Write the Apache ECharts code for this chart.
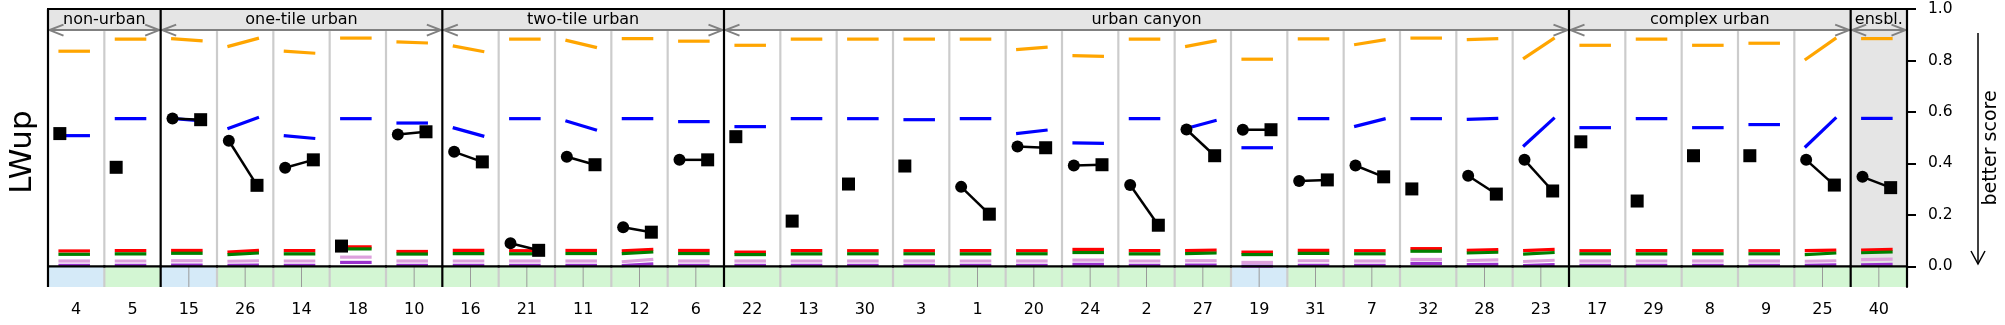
<!DOCTYPE html>
<html><head><meta charset="utf-8">
<script src="https://cdn.jsdelivr.net/npm/echarts@6/dist/echarts.min.js"></script>
<style>html,body{margin:0;padding:0;background:#fff}#c{width:2005px;height:325px}</style>
</head><body><div id="c"></div>
<script>
// ---------- data ----------
const categories = ['4','5','15','26','14','18','10','16','21','11','12','6','22','13','30','3','1','20','24','2','27','19','31','7','32','28','23','17','29','8','9','25','40'];
const groupNames = ['non-urban','one-tile urban','two-tile urban','urban canyon','complex urban','ensbl.'];
const groupFrom  = [0, 2, 7, 12, 27, 32];
const groupTo    = [1, 6, 11, 26, 31, 32];
const shadedGroup = 'ensbl.';
// strip colour class per column: 'b' = light blue, 'g' = light green
const stripType = ['b','g','b','g','g','g','g','g','g','g','g','g','g','g','g','g','g','g','g','g','g','b','g','g','g','g','g','g','g','g','g','g','g'];
const yTicks = [0, 0.2, 0.4, 0.6, 0.8, 1.0];

// each entry: single value or [start, end]
const orange = [0.836,0.883,[0.885,0.876],[0.854,0.887],[0.836,0.828],0.887,[0.872,0.868],[0.857,0.834],0.883,[0.879,0.850],0.885,0.875,
  0.859,0.883,0.883,0.883,0.883,[0.842,0.852],[0.819,0.816],0.883,[0.854,0.877],0.805,0.884,[0.861,0.881],0.887,[0.881,0.885],[0.806,0.888],
  0.859,0.883,0.859,0.867,[0.802,0.888],0.885];
const blue = [0.508,0.574,[0.575,0.565],[0.535,0.579],[0.508,0.497],0.574,0.557,[0.539,0.505],0.574,[0.566,0.529],0.574,0.5625,
  0.543,0.574,0.574,0.570,0.574,[0.516,0.530],[0.480,0.478],0.574,[0.535,0.568],0.461,0.574,[0.543,0.574],0.574,[0.571,0.575],[0.466,0.578],
  0.539,0.574,0.539,0.551,[0.462,0.579],0.575];
const red = [0.060,0.061,0.062,[0.056,0.062],0.061,0.076,0.058,0.062,0.061,0.062,[0.060,0.066],0.062,
  0.0555,0.061,0.061,0.061,0.061,0.061,0.066,0.061,[0.061,0.063],0.0555,0.062,0.061,0.069,[0.062,0.065],[0.061,0.066],
  0.061,0.061,0.061,0.061,[0.061,0.063],[0.063,0.066]];
const green = [0.047,0.049,0.051,[0.046,0.052],0.049,0.068,0.048,0.050,0.049,0.050,[0.050,0.056],0.050,
  0.046,0.049,0.049,0.049,0.049,0.049,0.054,0.049,[0.050,0.052],0.046,0.051,0.049,0.059,[0.052,0.055],[0.048,0.054],
  0.049,0.049,0.049,0.049,[0.046,0.052],[0.053,0.056]];
const plum = [0.021,0.021,0.022,[0.020,0.022],0.021,0.036,0.021,0.021,0.021,0.021,[0.018,0.027],0.021,
  0.021,0.021,0.021,0.021,0.021,0.021,0.0245,0.021,0.022,0.0155,0.022,0.021,0.027,[0.023,0.025],[0.019,0.024],
  0.021,0.021,0.021,0.021,[0.020,0.022],[0.026,0.028]];
const purple = [0.004,0.004,0.005,[0.004,0.005],0.004,0.0155,0.004,0.004,0.004,0.004,[0.003,0.010],0.004,
  0.004,0.004,0.004,0.004,0.004,0.004,0.008,0.004,0.005,0.001,0.004,0.004,0.0115,[0.007,0.008],[0.003,0.007],
  0.004,0.004,0.004,0.004,[0.004,0.006],[0.006,0.008]];
const circleVals = [null,null,0.575,0.488,0.383,null,0.512,0.445,0.090,0.426,0.152,0.414,
  null,null,null,null,0.309,0.466,0.392,0.316,0.532,0.531,0.332,0.392,null,0.352,0.414,
  null,null,null,null,0.414,0.348];
const squareVals = [0.516,0.385,0.570,0.315,0.414,0.079,0.523,0.406,0.0625,0.395,0.133,0.414,
  0.504,0.176,0.320,0.390,0.203,0.461,0.395,0.160,0.430,0.531,0.336,0.348,0.301,0.281,0.293,
  0.484,0.254,0.430,0.430,0.316,0.306];

// ---------- styling ----------
const FONT = 'DejaVu Sans';
const YMIN = -0.08, YMAX = 1.0, HEADER_Y = 0.918;
const SEG_L = -0.315, SEG_R = 0.245, MK_L = -0.29, MK_R = 0.21;
const STRIP = {b:'#d5eaf8', g:'#d3f6d3'};

const chart = echarts.init(document.getElementById('c'), null, {renderer:'canvas'});

function pair(v){ return Array.isArray(v) ? v : [v, v]; }
function isGroupStart(i){ return groupFrom.indexOf(i) >= 0; }

function segSeries(name, arr, color, z){
  return {
    type:'custom', name, z, coordinateSystem:'cartesian2d', silent:true,
    data: arr.map((v,i)=>{ const p = pair(v); return [i, p[0], p[1]]; }),
    encode:{x:0, y:[1,2]},
    renderItem(params, api){
      const i = api.value(0), bw = api.size([1,0])[0];
      const p1 = api.coord([i, api.value(1)]), p2 = api.coord([i, api.value(2)]);
      return {type:'line', shape:{x1:p1[0]+SEG_L*bw, y1:p1[1], x2:p2[0]+SEG_R*bw, y2:p2[1]},
        style:{stroke:color, lineWidth:3.2, lineCap:'butt'}};
    }
  };
}

const option = {
  animation:false,
  grid:{left:48, right:98, top:9, bottom:38, containLabel:false},
  xAxis:{
    type:'category', data:categories, boundaryGap:true,
    axisLine:{show:true, lineStyle:{color:'#000', width:2}},
    axisTick:{show:true, alignWithLabel:true, length:9, lineStyle:{color:'#000', width:2}},
    axisLabel:{fontSize:16, color:'#000', margin:15, fontFamily:FONT, interval:0},
    splitLine:{show:false}
  },
  yAxis:{
    type:'value', position:'right', min:YMIN, max:YMAX,
    axisLine:{show:true, lineStyle:{color:'#000', width:2}},
    axisTick:{show:true, length:9, customValues:yTicks, lineStyle:{color:'#000', width:2}},
    axisLabel:{customValues:yTicks, formatter:v=>v.toFixed(1), fontSize:15.5, color:'#000', margin:21, fontFamily:FONT},
    splitLine:{show:false}
  },
  graphic:[
    {type:'text', x:23, y:152, rotation:Math.PI/2,
      style:{text:'LWup', font:'31px "DejaVu Sans"', fill:'#000', textAlign:'center', textVerticalAlign:'middle'}},
    {type:'text', x:1991, y:148, rotation:Math.PI/2,
      style:{text:'better score', font:'19px "DejaVu Sans"', fill:'#000', textAlign:'center', textVerticalAlign:'middle'}},
    {type:'line', shape:{x1:1978, y1:33, x2:1978, y2:264}, style:{stroke:'#000', lineWidth:1.5}},
    {type:'polyline', shape:{points:[[1971,251],[1978,264],[1985,251]]}, style:{stroke:'#000', lineWidth:1.5, fill:null}}
  ],
  series:[
    // background strips, shaded ensemble column, faint centre lines
    {type:'custom', z:1, silent:true, coordinateSystem:'cartesian2d',
      data: categories.map((c,i)=>[i, 0]),
      renderItem(params, api){
        const i = api.value(0), bw = api.size([1,0])[0];
        const c0 = api.coord([i, 0]), cb = api.coord([i, YMIN]), ct = api.coord([i, YMAX]);
        const children = [];
        const gi = groupFrom.findIndex((f,k)=> i>=f && i<=groupTo[k]);
        if (groupNames[gi] === shadedGroup) {
          children.push({type:'rect', shape:{x:c0[0]-bw/2, y:ct[1], width:bw, height:c0[1]-ct[1]}, style:{fill:'#e5e5e5'}});
        }
        children.push({type:'rect', shape:{x:c0[0]-bw/2, y:c0[1], width:bw, height:cb[1]-c0[1]}, style:{fill:STRIP[stripType[i]]}});
        if (circleVals[i] !== null) {
          children.push({type:'line', shape:{x1:c0[0], y1:c0[1], x2:c0[0], y2:cb[1]}, style:{stroke:'#9a9a9a', lineWidth:1}});
        }
        return {type:'group', children};
      }},
    // header band with group names and arrows
    {type:'custom', z:2, silent:true, coordinateSystem:'cartesian2d',
      data: groupNames.map((n,k)=>[groupFrom[k], groupTo[k], k]),
      renderItem(params, api){
        const f = api.value(0), t = api.value(1), k = api.value(2), bw = api.size([1,0])[0];
        const a = api.coord([f, YMAX]), b = api.coord([t, HEADER_Y]), m = api.coord([f, 0.958]);
        const L = a[0]-bw/2, R = b[0]+bw/2, T = a[1], B = b[1];
        const ah = 14, aw = 5.5;
        return {type:'group', children:[
          {type:'rect', shape:{x:L, y:T, width:R-L, height:B-T}, style:{fill:'#e5e5e5'}},
          {type:'line', shape:{x1:L+1.5, y1:B, x2:R-1.5, y2:B}, style:{stroke:'#808080', lineWidth:2}},
          {type:'polyline', shape:{points:[[L+1.5+ah, B-aw],[L+1.5, B],[L+1.5+ah, B+aw]]}, style:{stroke:'#808080', lineWidth:2, fill:null}},
          {type:'polyline', shape:{points:[[R-1.5-ah, B-aw],[R-1.5, B],[R-1.5-ah, B+aw]]}, style:{stroke:'#808080', lineWidth:2, fill:null}},
          {type:'text', style:{x:(L+R)/2, y:m[1], text:groupNames[k], fontSize:16, fontFamily:FONT, fill:'#000', textAlign:'center', textVerticalAlign:'middle'}}
        ]};
      }},
    // light grey column separators
    {type:'custom', z:2, silent:true, coordinateSystem:'cartesian2d',
      data: categories.map((c,i)=>[i, 0]),
      renderItem(params, api){
        const i = api.value(0);
        if (i === 0 || isGroupStart(i)) return null;
        const bw = api.size([1,0])[0];
        const top = api.coord([i, HEADER_Y]), bot = api.coord([i, YMIN]);
        const x = top[0]-bw/2;
        return {type:'line', shape:{x1:x, y1:top[1]+1, x2:x, y2:bot[1]}, style:{stroke:'#cccccc', lineWidth:2.2}};
      }},
    segSeries('orange', orange, '#ffa500', 3),
    segSeries('blue', blue, '#0000ff', 3),
    segSeries('plum', plum, '#dda0dd', 3),
    segSeries('purple', purple, '#9932cc', 3),
    segSeries('red', red, '#ff0000', 3),
    segSeries('green', green, '#008000', 3),
    // zero line, group separators, frame
    {type:'custom', z:5, silent:true, coordinateSystem:'cartesian2d',
      data: categories.map((c,i)=>[i, 0]),
      renderItem(params, api){
        const i = api.value(0), bw = api.size([1,0])[0];
        const c0 = api.coord([i, 0]), ct = api.coord([i, YMAX]), cb = api.coord([i, YMIN]);
        const children = [{type:'line', shape:{x1:c0[0]-bw/2-1, y1:c0[1], x2:c0[0]+bw/2+1, y2:c0[1]}, style:{stroke:'#000', lineWidth:2.2}}];
        children.push({type:'line', shape:{x1:c0[0]-bw/2-1, y1:ct[1], x2:c0[0]+bw/2+1, y2:ct[1]}, style:{stroke:'#000', lineWidth:2.2}});
        if (isGroupStart(i)) {
          children.push({type:'line', shape:{x1:c0[0]-bw/2, y1:ct[1], x2:c0[0]-bw/2, y2:cb[1]}, style:{stroke:'#000', lineWidth:2.2}});
        }
        if (i === categories.length-1) {
          children.push({type:'line', shape:{x1:c0[0]+bw/2, y1:ct[1], x2:c0[0]+bw/2, y2:cb[1]}, style:{stroke:'#000', lineWidth:2.2}});
        }
        return {type:'group', children};
      }},
    // circle -> square markers
    {type:'custom', z:6, silent:true, coordinateSystem:'cartesian2d',
      data: categories.map((c,i)=>[i, circleVals[i] === null ? '-' : circleVals[i], squareVals[i]]),
      encode:{x:0, y:[1,2]},
      renderItem(params, api){
        const i = api.value(0), bw = api.size([1,0])[0];
        const sq = api.coord([i, api.value(2)]);
        const cv = circleVals[i];
        const children = [];
        if (cv === null) {
          const x = sq[0] + MK_L*bw;
          children.push({type:'rect', shape:{x:x-6.5, y:sq[1]-6.5, width:13, height:13}, style:{fill:'#000'}});
        } else {
          const ci = api.coord([i, cv]);
          const xc = ci[0] + MK_L*bw, xs = sq[0] + MK_R*bw;
          children.push({type:'line', shape:{x1:xc, y1:ci[1], x2:xs, y2:sq[1]}, style:{stroke:'#000', lineWidth:2.5}});
          children.push({type:'circle', shape:{cx:xc, cy:ci[1], r:6}, style:{fill:'#000'}});
          children.push({type:'rect', shape:{x:xs-6.5, y:sq[1]-6.5, width:13, height:13}, style:{fill:'#000'}});
        }
        return {type:'group', children};
      }}
  ]
};
chart.setOption(option);
</script>
</body></html>
